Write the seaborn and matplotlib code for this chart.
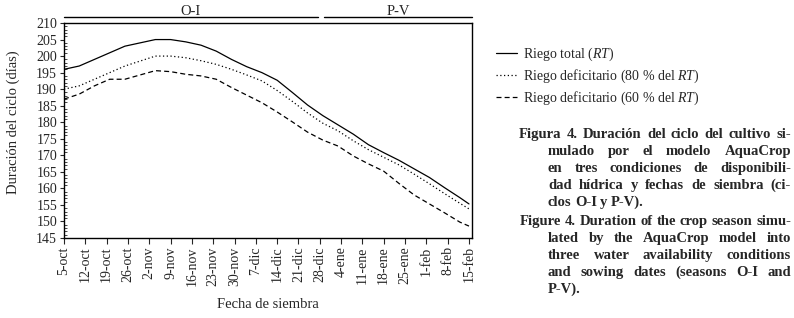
import matplotlib
matplotlib.use("Agg")

import numpy as np
import pandas as pd
import matplotlib.pyplot as plt
import matplotlib.transforms as mtransforms
import seaborn as sns

# sowing date, days after 5-oct
days = [0, 5, 10, 15, 20, 25, 30, 35, 40, 45, 50, 55, 60, 65, 70, 75, 80, 85,
        90, 95, 100, 105, 110, 115, 120, 125, 130, 133]
riego_total = [196, 197, 199, 201, 203, 204, 205, 205, 204.3, 203.3, 201.5, 199,
               196.8, 195, 192.7, 189, 185.2, 182, 179.2, 176.4, 173.2, 170.8,
               168.5, 165.9, 163.3, 160.2, 157.2, 155.3]
riego_80 = [190, 191, 193, 195, 197, 198.5, 200, 200, 199.5, 198.6, 197.5, 196,
            194.3, 192.5, 189.6, 186.3, 182.8, 179.7, 177.4, 174.4, 171.7, 169.4,
            167.1, 164.3, 161.4, 158.4, 155.5, 153.8]
riego_60 = [187, 188.5, 191, 193, 193, 194.3, 195.6, 195.3, 194.5, 194, 193, 190.5,
            188.2, 185.9, 183.1, 180.1, 177.0, 174.6, 172.8, 169.8, 167.4, 165.2,
            161.5, 158, 155.3, 152.6, 149.8, 148.6]

week_labels = ["5-oct", "12-oct", "19-oct", "26-oct", "2-nov", "9-nov", "16-nov",
               "23-nov", "30-nov", "7-dic", "14-dic", "21-dic", "28-dic", "4-ene",
               "11-ene", "18-ene", "25-ene", "1-feb", "8-feb", "15-feb"]

seasons = ["O-I", "P-V"]
season_from = [0, 85.4]
season_to = [83.4, 134]

series_labels = [
    r"Riego total ($\mathit{RT}$)",
    r"Riego deficitario (80 % del $\mathit{RT}$)",
    r"Riego deficitario (60 % del $\mathit{RT}$)",
]

caption_es = [
    "Figura 4. Duración del ciclo del cultivo si-",
    "mulado por el modelo AquaCrop",
    "en tres condiciones de disponibili-",
    "dad hídrica y fechas de siembra (ci-",
    "clos O-I y P-V).",
]
caption_en = [
    "Figure 4. Duration of the crop season simu-",
    "lated by the AquaCrop model into",
    "three water availability conditions",
    "and sowing dates (seasons O-I and",
    "P-V).",
]

sns.set_theme(style="ticks")
plt.rcParams["font.family"] = ["Liberation Serif", "DejaVu Serif"]
plt.rcParams["mathtext.fontset"] = "custom"
plt.rcParams["mathtext.rm"] = "Liberation Serif"
plt.rcParams["mathtext.it"] = "Liberation Serif:italic"

df = pd.DataFrame({"dia": days, "total": riego_total, "d80": riego_80, "d60": riego_60})

fig = plt.figure(figsize=(7.94, 3.18), dpi=100)
ax = fig.add_axes([0.0806, 0.2516, 0.5139, 0.676])

styles = ["-", (0, (1, 2)), (0, (4, 2.5))]
for col, lab, ls in zip(["total", "d80", "d60"], series_labels, styles):
    sns.lineplot(data=df, x="dia", y=col, ax=ax, color="black", linestyle=ls,
                 linewidth=0.9, label=lab)

ax.set_xlim(0, 134)
ax.set_ylim(145, 210)
ax.set_xticks(np.arange(len(week_labels)) * 7)
ax.set_xticklabels(week_labels, rotation=90, fontsize=10)
ax.set_yticks(np.arange(145, 211, 5))
ax.set_yticks(np.arange(145, 211, 1), minor=True)
ax.tick_params(axis="y", which="major", direction="out", length=3, width=0.8,
               pad=2, labelsize=10)
ax.tick_params(axis="y", which="minor", direction="in", length=2, width=0.6, left=True)
ax.tick_params(axis="x", direction="out", length=4, width=0.8, pad=2)
for s in ax.spines.values():
    s.set_linewidth(1.0)
    s.set_color("black")

ax.set_xlabel("Fecha de siembra", fontsize=10.5)
ax.set_ylabel("Duración del ciclo (días)", fontsize=10.5)
ax.xaxis.set_label_coords(0.5, -0.28)
ax.yaxis.set_label_coords(-0.108, 0.54)

# season brackets above the plot
trans = mtransforms.blended_transform_factory(ax.transData, ax.transAxes)
for name, a, b in zip(seasons, season_from, season_to):
    ax.plot([a, b], [1.028, 1.028], color="black", lw=1.0, transform=trans, clip_on=False)
    ax.text((a + b) / 2, 1.038, name, transform=trans, ha="center", va="baseline",
            fontsize=10.5)

handles, labels = ax.get_legend_handles_labels()
ax.legend(handles, labels, loc="upper left", bbox_to_anchor=(0.618, 0.875),
          bbox_transform=fig.transFigure, frameon=False, fontsize=10,
          handlelength=1.5, handletextpad=0.4, labelspacing=0.35, borderaxespad=0)


def justify(lines, first_x, indent_x, right_x, base_y, step, **kw):
    r = fig.canvas.get_renderer()
    W, H = fig.bbox.width, fig.bbox.height
    for i, line in enumerate(lines):
        x0 = first_x if i == 0 else indent_x
        y = 1 - (base_y + i * step) / H
        words = line.split(" ")
        texts = [fig.text(0, y, w, va="baseline", ha="left", **kw) for w in words]
        wd = [t.get_window_extent(r).width for t in texts]
        if i == len(lines) - 1 or len(words) == 1:
            gap = 3.2
        else:
            gap = (right_x - x0 - sum(wd)) / (len(words) - 1)
        x = x0
        for t, w in zip(texts, wd):
            t.set_x(x / W)
            x += w + gap


justify(caption_es, 519, 548, 791, 138, 17, fontsize=10.5, fontweight="bold")
justify(caption_en, 520, 548, 791, 225, 17, fontsize=10.5, fontweight="bold")

fig.savefig("out.png", dpi=100)
plt.close(fig)
